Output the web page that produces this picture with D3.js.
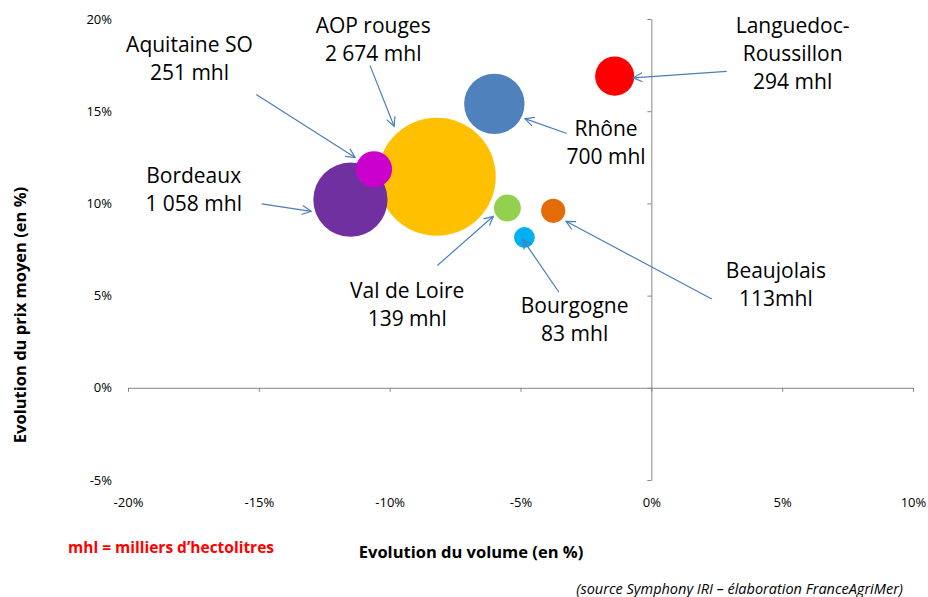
<!DOCTYPE html>
<html>
<head>
<meta charset="utf-8">
<script src="https://cdn.jsdelivr.net/npm/d3@7"></script>
<style>
  body { margin: 0; background: #fff; }
  svg { display: block; font-family: "Open Sans", "Noto Sans", sans-serif; }
  .axis path, .axis line { stroke: #868686; }
  .lbl text { fill: #000; }
</style>
</head>
<body>
<svg width="928" height="597"></svg>
<script>
// Data
const regions   = ["AOP rouges", "Bordeaux", "Aquitaine SO", "Languedoc-Roussillon", "Rhône", "Val de Loire", "Beaujolais", "Bourgogne"];
const volumeEvo = [-8.2, -11.5, -10.6, -1.4, -6.0, -5.5, -3.75, -4.85];   // % volume
const priceEvo  = [11.45, 10.2, 11.85, 16.9, 15.4, 9.75, 9.6, 8.15];       // % prix moyen
const volumes   = [2674, 1058, 251, 294, 700, 139, 113, 83];               // mhl
const colors    = ["#FFC000", "#7030A0", "#CC00CC", "#FF0000", "#4F81BD", "#92D050", "#E36C09", "#00B0F0"];
const labelText = [["AOP rouges", "2 674 mhl"], ["Bordeaux", "1 058 mhl"], ["Aquitaine SO", "251 mhl"],
                   ["Languedoc-", "Roussillon", "294 mhl"], ["Rhône", "700 mhl"], ["Val de Loire", "139 mhl"],
                   ["Beaujolais", "113mhl"], ["Bourgogne", "83 mhl"]];
// annotation placement, in axis units (%)
const labelPos  = [[-10.63, 19.25], [-17.49, 11.11], [-17.65, 18.19], [5.40, 19.25], [-1.73, 13.64], [-9.33, 4.88], [4.76, 5.96], [-2.93, 4.06]];
const arrowFrom = [[-10.75, 17.47], [-14.89, 9.97], [-15.10, 15.90], [2.88, 17.16], [-3.23, 13.79], [-8.18, 6.63], [2.31, 4.82], [-3.53, 5.18]];
const arrowTo   = [[-9.83, 14.18], [-13.0, 9.57], [-11.32, 12.49], [-0.69, 16.81], [-4.83, 14.60], [-6.04, 9.30], [-3.26, 9.03], [-4.91, 8.04]];

const xTicks = [-20, -15, -10, -5, 0, 5, 10];
const yTicks = [-5, 0, 5, 10, 15, 20];

const data = regions.map(function(d, i) {
  return {name: d, vx: volumeEvo[i], vy: priceEvo[i], vol: volumes[i], color: colors[i],
          lines: labelText[i], lp: labelPos[i], from: arrowFrom[i], to: arrowTo[i]};
});

const svg = d3.select("svg");

// Scales
const x = d3.scaleLinear().domain([-20, 10]).range([128, 913]);
const y = d3.scaleLinear().domain([-5, 20]).range([480, 19]);
const r = d3.scaleSqrt().domain([0, 2674]).range([0, 59]);

const fmt = function(d) { return d + "%"; };

// Axes crossing at 0
svg.append("g")
    .attr("class", "axis")
    .attr("transform", "translate(0," + y(0) + ")")
    .call(d3.axisBottom(x).tickValues(xTicks).tickSize(4).tickSizeOuter(0).tickFormat(""));
svg.append("g")
    .attr("class", "axis")
    .attr("transform", "translate(" + x(0) + ",0)")
    .call(d3.axisLeft(y).tickValues(yTicks).tickSize(4).tickSizeOuter(0).tickFormat(""));

// Tick labels (at chart bottom / left)
svg.append("g")
    .attr("transform", "translate(0,498)")
    .call(d3.axisBottom(x).tickValues(xTicks).tickSize(0).tickPadding(0).tickFormat(fmt))
    .call(function(g) { g.select(".domain").remove(); })
    .selectAll("text").attr("font-size", 13).attr("font-family", "Open Sans").attr("fill", "#000");
svg.append("g")
    .attr("transform", "translate(112,0)")
    .call(d3.axisLeft(y).tickValues(yTicks).tickSize(0).tickPadding(0).tickFormat(fmt))
    .call(function(g) { g.select(".domain").remove(); })
    .selectAll("text").attr("font-size", 13).attr("font-family", "Open Sans").attr("fill", "#000");

// Bubbles
svg.append("g").selectAll("circle")
    .data(data)
    .enter()
    .append("circle")
    .attr("cx", function(d) { return x(d.vx); })
    .attr("cy", function(d) { return y(d.vy); })
    .attr("r", function(d) { return r(d.vol); })
    .attr("fill", function(d) { return d.color; });

// Arrows
const arrowColor = "#4A7EBB";
svg.append("defs").append("marker")
    .attr("id", "head")
    .attr("markerUnits", "userSpaceOnUse")
    .attr("viewBox", "-12 -6 14 12")
    .attr("markerWidth", 14).attr("markerHeight", 12)
    .attr("refX", 0).attr("refY", 0)
    .attr("orient", "auto")
    .append("path")
    .attr("d", "M-9,-4.5L0,0L-9,4.5")
    .attr("fill", "none")
    .attr("stroke", arrowColor)
    .attr("stroke-width", 1.2);

svg.append("g").selectAll("line")
    .data(data)
    .enter()
    .append("line")
    .attr("x1", function(d) { return x(d.from[0]); })
    .attr("y1", function(d) { return y(d.from[1]); })
    .attr("x2", function(d) { return x(d.to[0]); })
    .attr("y2", function(d) { return y(d.to[1]); })
    .attr("stroke", arrowColor)
    .attr("stroke-width", 1.2)
    .attr("marker-end", "url(#head)");

// Labels
const lbl = svg.append("g").attr("class", "lbl").selectAll("text")
    .data(data)
    .enter()
    .append("text")
    .attr("text-anchor", "middle")
    .attr("font-size", 21);
lbl.selectAll("tspan")
    .data(function(d) { return d.lines.map(function(t) { return {t: t, p: d.lp}; }); })
    .enter()
    .append("tspan")
    .attr("x", function(d) { return x(d.p[0]); })
    .attr("y", function(d, i) { return y(d.p[1]) + i * 28; })
    .text(function(d) { return d.t; });

// Titles
svg.append("text")
    .attr("x", 471).attr("y", 558)
    .attr("text-anchor", "middle")
    .attr("font-size", 16.5).attr("font-weight", "bold")
    .text("Evolution du volume (en %)");
svg.append("text")
    .attr("transform", "translate(26,315) rotate(-90)")
    .attr("text-anchor", "middle")
    .attr("font-size", 16.5).attr("font-weight", "bold")
    .text("Evolution du prix moyen (en %)");
svg.append("text")
    .attr("x", 68).attr("y", 553)
    .attr("font-size", 15.5).attr("font-weight", "bold")
    .attr("fill", "#FF0000")
    .text("mhl = milliers d’hectolitres");
svg.append("text")
    .attr("x", 903).attr("y", 594)
    .attr("text-anchor", "end")
    .attr("font-size", 14.5).attr("font-style", "italic")
    .text("(source Symphony IRI – élaboration FranceAgriMer)");
</script>
</body>
</html>
